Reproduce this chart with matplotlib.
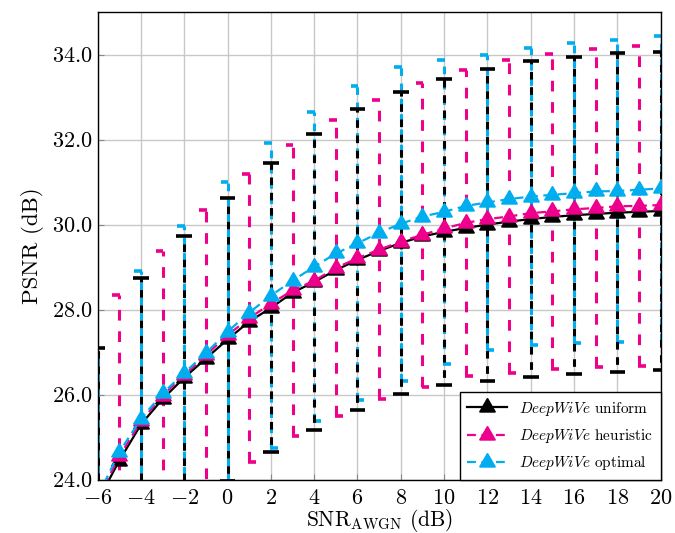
import numpy as np
import matplotlib
matplotlib.use("Agg")
import matplotlib.pyplot as plt
from matplotlib.ticker import FuncFormatter

# data
snr = np.arange(-6, 21)
uniform = [23.5, 24.45, 25.3, 25.9, 26.4, 26.85, 27.3, 27.72, 28.04, 28.4, 28.65, 28.93, 29.17, 29.38,
           29.57, 29.72, 29.83, 29.92, 30.0, 30.07, 30.13, 30.18, 30.22, 30.25, 30.28, 30.3, 30.32]
heuristic = [23.55, 24.55, 25.37, 25.98, 26.46, 26.93, 27.4, 27.8, 28.14, 28.45, 28.68, 28.98, 29.21, 29.41,
             29.6, 29.76, 29.91, 30.04, 30.13, 30.19, 30.27, 30.31, 30.36, 30.39, 30.43, 30.44, 30.46]
optimal = [23.6, 24.65, 25.43, 26.03, 26.51, 26.98, 27.48, 27.93, 28.33, 28.68, 29.01, 29.32, 29.56, 29.81,
           30.02, 30.19, 30.3, 30.44, 30.52, 30.6, 30.66, 30.7, 30.74, 30.78, 30.79, 30.82, 30.85]

# error bars: uniform/optimal at even SNR, heuristic at odd SNR
uniform_err = [3.6, 3.45, 3.32, 3.33, 3.4, 3.47, 3.54, 3.55, 3.6, 3.67, 3.71, 3.73, 3.75, 3.74]
optimal_err = [3.4, 3.49, 3.46, 3.52, 3.58, 3.63, 3.69, 3.69, 3.57, 3.48, 3.5, 3.52, 3.56, 3.58]
heuristic_err = [3.79, 3.39, 3.41, 3.38, 3.42, 3.48, 3.52, 3.58, 3.59, 3.67, 3.71, 3.73, 3.77]

labels = [r"$\mathit{DeepWiVe}$ uniform", r"$\mathit{DeepWiVe}$ heuristic", r"$\mathit{DeepWiVe}$ optimal"]

BLACK = "black"
MAGENTA = "#EC008C"
CYAN = "#00AEEF"

plt.rcParams["font.family"] = "serif"
plt.rcParams["font.serif"] = ["cmr10"]
plt.rcParams["mathtext.fontset"] = "cm"
plt.rcParams["axes.formatter.use_mathtext"] = True

fig = plt.figure(figsize=(6.75, 5.33), dpi=100)
ax = fig.add_axes([0.1447, 0.1, 0.834, 0.8775])

even = snr % 2 == 0
odd = ~even
u = np.array(uniform)
h = np.array(heuristic)
o = np.array(optimal)
ue = np.array(uniform_err)
he = np.array(heuristic_err)
oe = np.array(optimal_err)
xe = snr[even]
xo = snr[odd]

# error bars
ax.vlines(xe, o[even] - oe, o[even] + oe, colors=CYAN, linewidth=2.2, linestyles=[(0, (2.5, 2.5))], zorder=2)
ax.hlines(o[even] + oe, xe - 0.32, xe + 0.04, colors=CYAN, linewidth=2.6, zorder=2)
ax.hlines(o[even] - oe, xe - 0.04, xe + 0.32, colors=CYAN, linewidth=2.6, zorder=2)

ax.vlines(xe, u[even] - ue, u[even] + ue, colors=BLACK, linewidth=2.2, linestyles=[(2.5, (2.5, 2.5))], zorder=3)
ax.hlines(u[even] + ue, xe - 0.36, xe + 0.36, colors=BLACK, linewidth=2.6, zorder=3)
ax.hlines(u[even] - ue, xe - 0.36, xe + 0.36, colors=BLACK, linewidth=2.6, zorder=3)

ax.vlines(xo, h[odd] - he, h[odd] + he, colors=MAGENTA, linewidth=2.2, linestyles=[(0, (3.5, 3.5))], zorder=3)
ax.hlines(h[odd] + he, xo - 0.32, xo + 0.04, colors=MAGENTA, linewidth=2.6, zorder=3)
ax.hlines(h[odd] - he, xo - 0.04, xo + 0.32, colors=MAGENTA, linewidth=2.6, zorder=3)

# curves (regular triangle marker, centred on its centroid like pgfplots)
tri = (3, 0, 0)
ax.plot(snr, uniform, color=BLACK, lw=1.6, marker=tri, ms=13, label=labels[0], zorder=4)
ax.plot(snr, heuristic, color=MAGENTA, lw=1.6, ls=(0, (4, 2.5)), marker=tri, ms=13, label=labels[1], zorder=5)
ax.plot(snr, optimal, color=CYAN, lw=1.6, ls=(0, (4, 2.5)), marker=tri, ms=13, label=labels[2], zorder=6)

ax.set_xlim(-6, 20)
ax.set_ylim(24, 35)
ax.set_xticks(np.arange(-6, 21, 2))
ax.set_yticks(np.arange(24, 35, 2))
ax.xaxis.set_major_formatter(FuncFormatter(lambda v, p: f"${v:g}$"))
ax.yaxis.set_major_formatter(FuncFormatter(lambda v, p: f"${v:.1f}$"))
ax.tick_params(direction="in", length=4, color="#888888", labelsize=16)
ax.tick_params(axis="x", pad=6.5)
ax.grid(True, color="#c8c8c8", linewidth=1.0)
ax.set_axisbelow(True)
for s in ax.spines.values():
    s.set_linewidth(1.0)

ax.set_xlabel(r"SNR$_{\mathrm{AWGN}}$ (dB)", fontsize=15.5, labelpad=-1)
ax.set_ylabel("PSNR (dB)", fontsize=16.5, labelpad=6)

leg = ax.legend(loc="lower right", fontsize=11, frameon=True, fancybox=False, framealpha=1,
                edgecolor="black", borderaxespad=0, handlelength=2.6, borderpad=0.5, labelspacing=0.6)
leg.get_frame().set_linewidth(1.0)

fig.savefig("out.png", dpi=100)
